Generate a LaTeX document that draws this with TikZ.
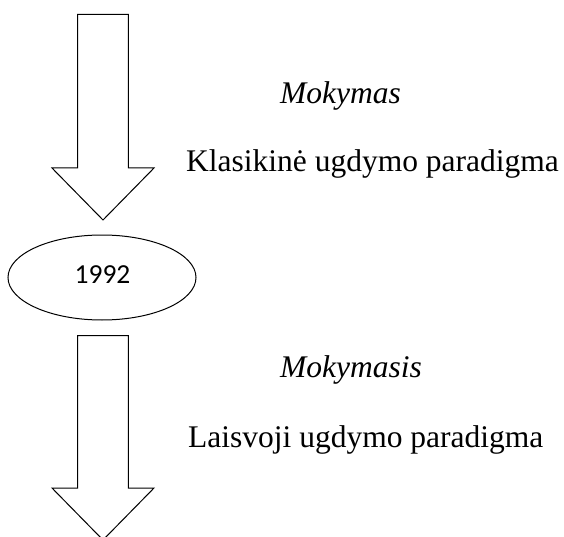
\documentclass[tikz,border=0pt]{standalone}
\usepackage{fontspec}
\setmainfont{Liberation Serif}
\newfontfamily\yearfont{Carlito}
\usetikzlibrary{shapes.geometric}

\tikzset{
  blockarrow/.style={draw=black, line width=1pt, fill=white, line join=miter},
  label/.style={inner sep=0pt, anchor=base west, font=\fontsize{31.5}{36}\selectfont},
  yearoval/.style={draw=black, line width=1pt, ellipse, minimum width=188pt, minimum height=85pt, inner sep=0pt},
}

\begin{document}
\begin{tikzpicture}[x=1pt, y=-1pt]
  \useasboundingbox (0,0) rectangle (564,537);

  % upper block arrow
  \draw[blockarrow] (77.7,14.3) -- (128.3,14.3) -- (128.3,168) -- (154,168)
    -- (103,220) -- (52,168) -- (77.7,168) -- cycle;

  % year oval
  \node[yearoval] (year) at (102,277.5) {};
  \node[inner sep=0pt, anchor=base, font=\yearfont\fontsize{27.5}{32}\selectfont] (yeartext) at (102.5,283.3) {1992};

  % lower block arrow (its tip runs past the lower edge)
  \draw[blockarrow] (77.7,335.7) -- (128.3,335.7) -- (128.3,488) -- (154,488)
    -- (103,540) -- (52,488) -- (77.7,488) -- cycle;

  % labels
  \node[label, font=\itshape\fontsize{31.5}{36}\selectfont] (mok) at (280,103.3) {Mokymas};
  \node[label] (klas) at (186,171.7) {Klasikinė ugdymo paradigma};
  \node[label, font=\itshape\fontsize{31.5}{36}\selectfont] (moks) at (280,377) {Mokymasis};
  \node[label] (lais) at (188,447) {Laisvoji ugdymo paradigma};
\end{tikzpicture}
\end{document}
